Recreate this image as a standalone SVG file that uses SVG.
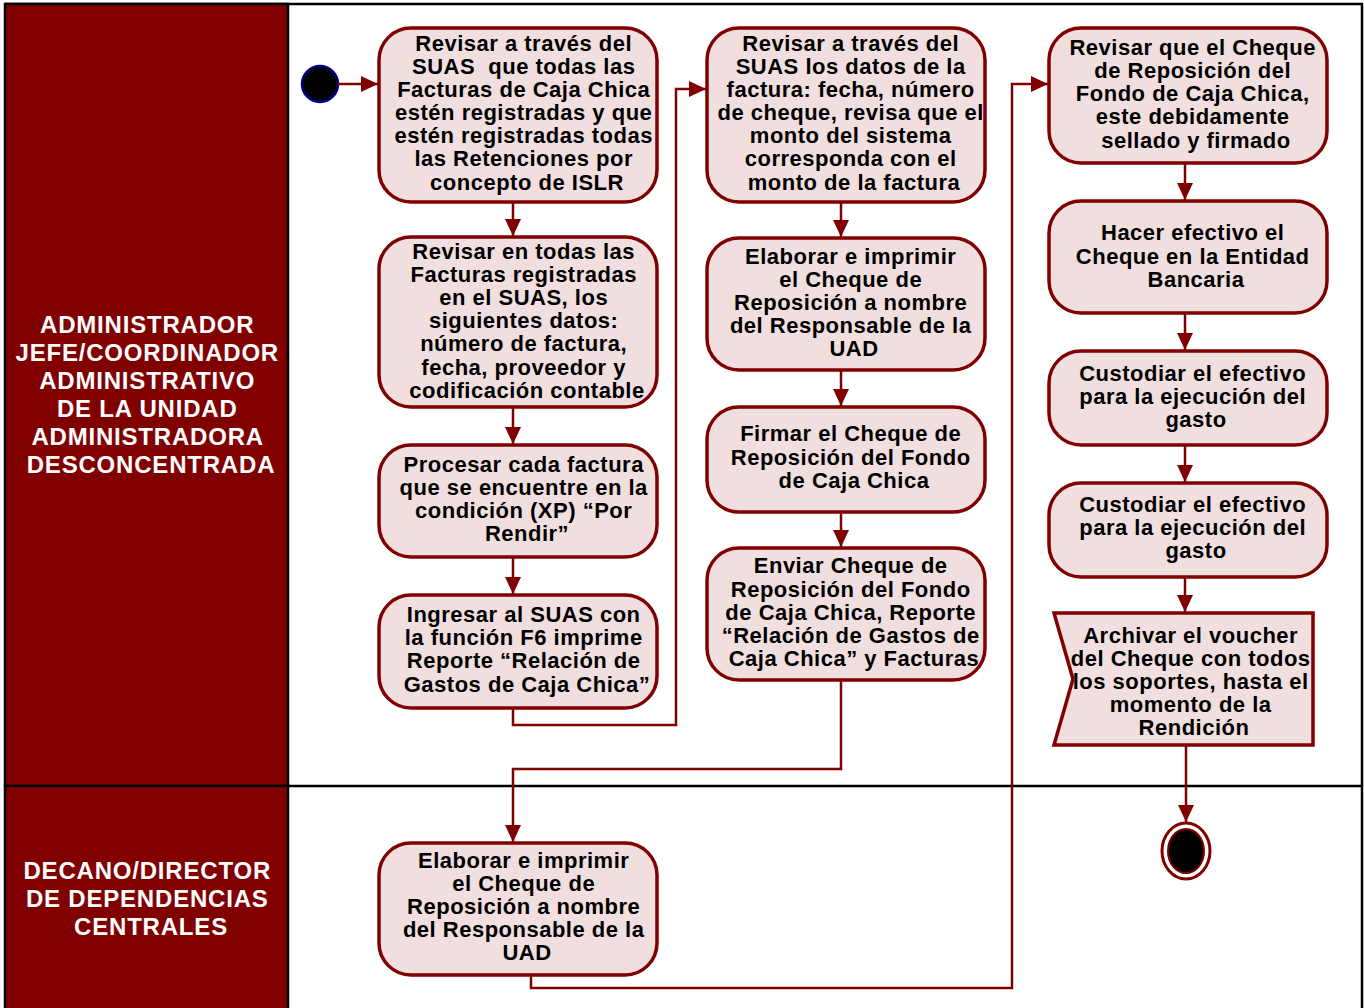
<svg xmlns="http://www.w3.org/2000/svg" width="1364" height="1008" viewBox="0 0 1364 1008">
  <style>
    .lane { fill: #800000; stroke: #000; stroke-width: 2.5; }
    .frame { fill: none; stroke: #000; stroke-width: 2.5; }
    .lbl { font-family: "Liberation Sans", Arial, sans-serif; font-weight: bold; font-size: 24px; letter-spacing: 0.8px; fill: #fff; text-anchor: middle; }
    .act { fill: #f1dede; stroke: #800000; stroke-width: 3.5; }
    .txt { font-family: "Liberation Sans", Arial, sans-serif; font-weight: bold; font-size: 22px; letter-spacing: 0.5px; fill: #000; text-anchor: middle; }
    .con { fill: none; stroke: #800000; stroke-width: 2.5; }
  </style>
  <defs>
    <marker id="arr" markerUnits="userSpaceOnUse" markerWidth="18" markerHeight="16" refX="17" refY="8" orient="auto">
      <path d="M0,0 L17,8 L0,16 z" fill="#800000"/>
    </marker>
  </defs>

  <rect width="1364" height="1008" fill="#fff"/>

  <!-- swimlanes -->
  <g id="lanes">
    <path class="frame" d="M5,4 H1362 V1010"/>
    <line class="frame" x1="5" y1="786" x2="1362" y2="786"/>
    <rect class="lane" x="5" y="4" width="283" height="782"/>
    <rect class="lane" x="5" y="786" width="283" height="226"/>
    <text class="lbl">
      <tspan x="151" y="333">ADMINISTRADOR</tspan>
      <tspan x="151" y="361">JEFE/COORDINADOR</tspan>
      <tspan x="151" y="389">ADMINISTRATIVO</tspan>
      <tspan x="151" y="417">DE LA UNIDAD</tspan>
      <tspan x="151" y="445">ADMINISTRADORA</tspan>
      <tspan x="151" y="473">DESCONCENTRADA</tspan>
    </text>
    <text class="lbl">
      <tspan x="151" y="879">DECANO/DIRECTOR</tspan>
      <tspan x="151" y="907">DE DEPENDENCIAS</tspan>
      <tspan x="151" y="935">CENTRALES</tspan>
    </text>
  </g>

  <!-- start / end -->
  <g id="start">
    <circle cx="320" cy="84" r="18" fill="#000" stroke="#00008b" stroke-width="2.5"/>
  </g>
  <g id="end">
    <ellipse cx="1186" cy="851" rx="24" ry="28" fill="#fff" stroke="#800000" stroke-width="3"/>
    <ellipse cx="1186" cy="851" rx="18" ry="22" fill="#000" stroke="#800000" stroke-width="2"/>
  </g>

  <!-- column 1 -->
  <g id="b1">
    <rect class="act" x="379" y="28" width="278" height="174" rx="32"/>
    <text class="txt">
      <tspan x="527" y="51">Revisar a través del</tspan>
      <tspan x="527" y="74">SUAS&#160; que todas las</tspan>
      <tspan x="527" y="97">Facturas de Caja Chica</tspan>
      <tspan x="527" y="120">estén registradas y que</tspan>
      <tspan x="527" y="143">estén registradas todas</tspan>
      <tspan x="527" y="166">las Retenciones por</tspan>
      <tspan x="527" y="190">concepto de ISLR</tspan>
    </text>
  </g>
  <g id="b2">
    <rect class="act" x="379" y="237" width="278" height="170" rx="32"/>
    <text class="txt">
      <tspan x="527" y="259">Revisar en todas las</tspan>
      <tspan x="527" y="282">Facturas registradas</tspan>
      <tspan x="527" y="305">en el SUAS, los</tspan>
      <tspan x="527" y="328">siguientes datos:</tspan>
      <tspan x="527" y="351">número de factura,</tspan>
      <tspan x="527" y="375">fecha, proveedor y</tspan>
      <tspan x="527" y="398">codificación contable</tspan>
    </text>
  </g>
  <g id="b3">
    <rect class="act" x="379" y="445" width="278" height="112" rx="32"/>
    <text class="txt">
      <tspan x="527" y="472">Procesar cada factura</tspan>
      <tspan x="527" y="495">que se encuentre en la</tspan>
      <tspan x="527" y="518">condición (XP) “Por</tspan>
      <tspan x="527" y="541">Rendir”</tspan>
    </text>
  </g>
  <g id="b4">
    <rect class="act" x="379" y="595" width="278" height="113" rx="32"/>
    <text class="txt">
      <tspan x="527" y="622">Ingresar al SUAS con</tspan>
      <tspan x="527" y="645">la función F6 imprime</tspan>
      <tspan x="527" y="668">Reporte “Relación de</tspan>
      <tspan x="527" y="692">Gastos de Caja Chica”</tspan>
    </text>
  </g>

  <!-- column 2 -->
  <g id="c1">
    <rect class="act" x="707" y="28" width="278" height="174" rx="32"/>
    <text class="txt">
      <tspan x="854" y="51">Revisar a través del</tspan>
      <tspan x="854" y="74">SUAS los datos de la</tspan>
      <tspan x="854" y="97">factura: fecha, número</tspan>
      <tspan x="854" y="120">de cheque, revisa que el</tspan>
      <tspan x="854" y="143">monto del sistema</tspan>
      <tspan x="854" y="166">corresponda con el</tspan>
      <tspan x="854" y="190">monto de la factura</tspan>
    </text>
  </g>
  <g id="c2">
    <rect class="act" x="707" y="238" width="278" height="132" rx="32"/>
    <text class="txt">
      <tspan x="854" y="264">Elaborar e imprimir</tspan>
      <tspan x="854" y="287">el Cheque de</tspan>
      <tspan x="854" y="310">Reposición a nombre</tspan>
      <tspan x="854" y="333">del Responsable de la</tspan>
      <tspan x="854" y="356">UAD</tspan>
    </text>
  </g>
  <g id="c3">
    <rect class="act" x="707" y="407" width="278" height="105" rx="32"/>
    <text class="txt">
      <tspan x="854" y="441">Firmar el Cheque de</tspan>
      <tspan x="854" y="465">Reposición del Fondo</tspan>
      <tspan x="854" y="488">de Caja Chica</tspan>
    </text>
  </g>
  <g id="c4">
    <rect class="act" x="707" y="548" width="278" height="132" rx="32"/>
    <text class="txt">
      <tspan x="854" y="573">Enviar Cheque de</tspan>
      <tspan x="854" y="597">Reposición del Fondo</tspan>
      <tspan x="854" y="620">de Caja Chica, Reporte</tspan>
      <tspan x="854" y="643">“Relación de Gastos de</tspan>
      <tspan x="854" y="666">Caja Chica” y Facturas</tspan>
    </text>
  </g>

  <!-- column 3 -->
  <g id="d1">
    <rect class="act" x="1049" y="28" width="278" height="135" rx="32"/>
    <text class="txt">
      <tspan x="1196" y="55">Revisar que el Cheque</tspan>
      <tspan x="1196" y="78">de Reposición del</tspan>
      <tspan x="1196" y="101">Fondo de Caja Chica,</tspan>
      <tspan x="1196" y="124">este debidamente</tspan>
      <tspan x="1196" y="148">sellado y firmado</tspan>
    </text>
  </g>
  <g id="d2">
    <rect class="act" x="1049" y="201" width="278" height="112" rx="32"/>
    <text class="txt">
      <tspan x="1196" y="240">Hacer efectivo el</tspan>
      <tspan x="1196" y="264">Cheque en la Entidad</tspan>
      <tspan x="1196" y="287">Bancaria</tspan>
    </text>
  </g>
  <g id="d3">
    <rect class="act" x="1049" y="351" width="278" height="94" rx="32"/>
    <text class="txt">
      <tspan x="1196" y="381">Custodiar el efectivo</tspan>
      <tspan x="1196" y="404">para la ejecución del</tspan>
      <tspan x="1196" y="427">gasto</tspan>
    </text>
  </g>
  <g id="d4">
    <rect class="act" x="1049" y="483" width="278" height="94" rx="32"/>
    <text class="txt">
      <tspan x="1196" y="512">Custodiar el efectivo</tspan>
      <tspan x="1196" y="535">para la ejecución del</tspan>
      <tspan x="1196" y="558">gasto</tspan>
    </text>
  </g>
  <g id="d5">
    <path class="act" d="M1054,613 H1313 V745 H1054 L1073,679 Z"/>
    <text class="txt">
      <tspan x="1194" y="643">Archivar el voucher</tspan>
      <tspan x="1194" y="666">del Cheque con todos</tspan>
      <tspan x="1194" y="689">los soportes, hasta el</tspan>
      <tspan x="1194" y="712">momento de la</tspan>
      <tspan x="1194" y="735">Rendición</tspan>
    </text>
  </g>

  <!-- lower lane -->
  <g id="e1">
    <rect class="act" x="379" y="843" width="278" height="132" rx="32"/>
    <text class="txt">
      <tspan x="527" y="868">Elaborar e imprimir</tspan>
      <tspan x="527" y="891">el Cheque de</tspan>
      <tspan x="527" y="914">Reposición a nombre</tspan>
      <tspan x="527" y="937">del Responsable de la</tspan>
      <tspan x="527" y="960">UAD</tspan>
    </text>
  </g>

  <!-- connectors -->
  <g id="connectors">
    <path class="con" marker-end="url(#arr)" d="M338,84 H378"/>
    <path class="con" marker-end="url(#arr)" d="M513,203 V236"/>
    <path class="con" marker-end="url(#arr)" d="M513,408 V444"/>
    <path class="con" marker-end="url(#arr)" d="M513,558 V594"/>
    <path class="con" marker-end="url(#arr)" d="M513,709 V725 H676 V89 H706"/>
    <path class="con" marker-end="url(#arr)" d="M841,203 V237"/>
    <path class="con" marker-end="url(#arr)" d="M841,371 V406"/>
    <path class="con" marker-end="url(#arr)" d="M841,513 V547"/>
    <path class="con" marker-end="url(#arr)" d="M841,681 V769 H513 V842"/>
    <path class="con" marker-end="url(#arr)" d="M531,976 V988 H1012 V84 H1048"/>
    <path class="con" marker-end="url(#arr)" d="M1185,164 V200"/>
    <path class="con" marker-end="url(#arr)" d="M1185,314 V350"/>
    <path class="con" marker-end="url(#arr)" d="M1185,446 V482"/>
    <path class="con" marker-end="url(#arr)" d="M1185,578 V612"/>
    <path class="con" marker-end="url(#arr)" d="M1186,746 V822"/>
  </g>
</svg>
